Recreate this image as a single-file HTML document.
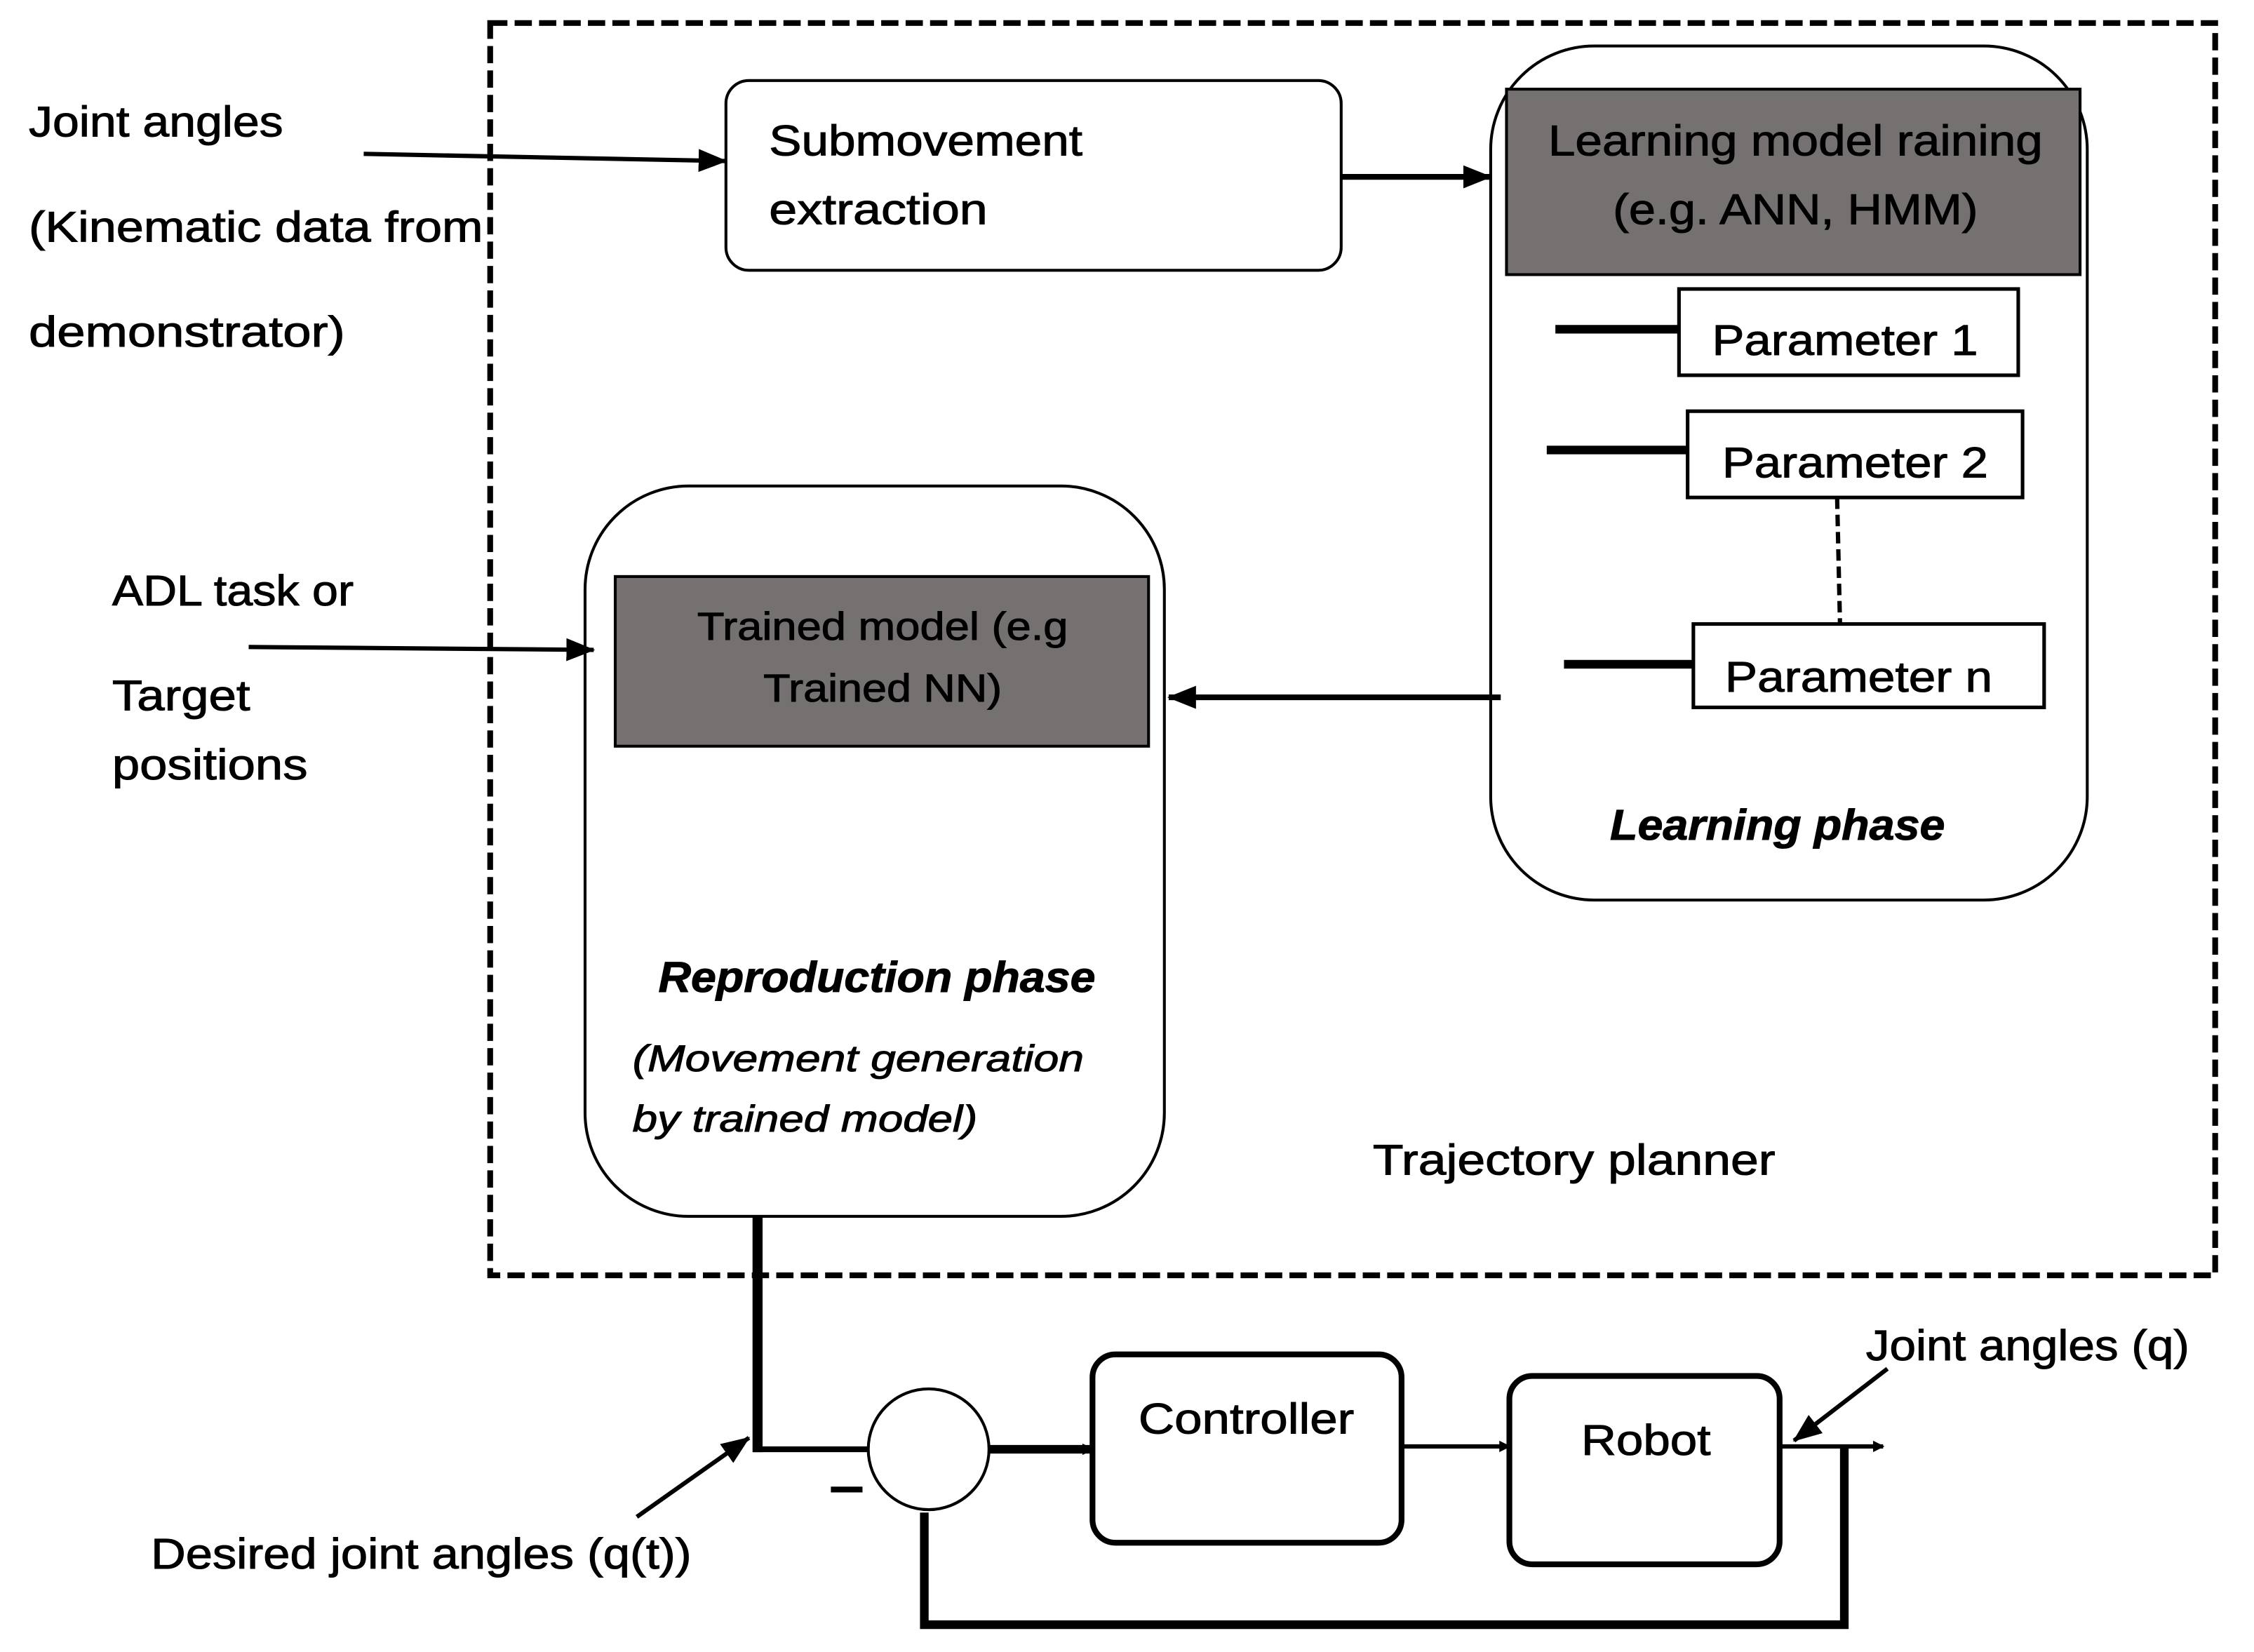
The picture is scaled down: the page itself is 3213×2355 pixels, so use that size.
<!DOCTYPE html>
<html><head><meta charset="utf-8"><style>html,body{margin:0;padding:0;background:#fff}svg{display:block}</style></head>
<body>
<svg width="3213" height="2355" viewBox="0 0 1568 1149" preserveAspectRatio="none" xmlns="http://www.w3.org/2000/svg" font-family="Liberation Sans, sans-serif" font-size="30">
<defs>
<marker id="a" markerWidth="8" markerHeight="8" refX="7" refY="4" orient="auto" markerUnits="userSpaceOnUse"><path d="M0,0 L8,4 L0,8 Z" fill="#000"/></marker>
<marker id="b" markerWidth="20" markerHeight="20" refX="19" refY="10" orient="auto" markerUnits="userSpaceOnUse"><path d="M0,2 L20,10 L0,18 Z" fill="#000"/></marker>
</defs>
<g stroke="#000" stroke-width="0">
<rect x="341" y="16" width="1200" height="871" fill="none" stroke="#000" stroke-width="4" stroke-dasharray="12,5"/>
<rect x="505" y="56" width="428" height="132" rx="16" fill="#fff" stroke="#000" stroke-width="2"/>
<rect x="1037" y="32" width="415" height="594" rx="72" fill="#fff" stroke="#000" stroke-width="2"/>
<rect x="1048" y="62" width="399" height="129" fill="#767171" stroke="#000" stroke-width="2"/>
<rect x="1168" y="201" width="236" height="60" fill="#fff" stroke="#000" stroke-width="2.5"/>
<line x1="1082" y1="229" x2="1168" y2="229" stroke="#000" stroke-width="6"/>
<rect x="1174" y="286" width="233" height="60" fill="#fff" stroke="#000" stroke-width="2.5"/>
<line x1="1076" y1="313" x2="1174" y2="313" stroke="#000" stroke-width="6"/>
<line x1="1278" y1="346" x2="1280" y2="434" stroke="#000" stroke-width="3" stroke-dasharray="8,4"/>
<rect x="1178" y="434" width="244" height="58" fill="#fff" stroke="#000" stroke-width="2.5"/>
<line x1="1088" y1="462" x2="1178" y2="462" stroke="#000" stroke-width="6"/>
<rect x="407" y="338" width="403" height="508" rx="72" fill="#fff" stroke="#000" stroke-width="2"/>
<rect x="428" y="401" width="371" height="118" fill="#767171" stroke="#000" stroke-width="2"/>
<line x1="253" y1="107" x2="505" y2="112" stroke="#000" stroke-width="3" marker-end="url(#b)"/>
<line x1="173" y1="450" x2="413" y2="452" stroke="#000" stroke-width="3" marker-end="url(#b)"/>
<line x1="933" y1="123" x2="1037" y2="123" stroke="#000" stroke-width="4" marker-end="url(#b)"/>
<line x1="1044" y1="485" x2="813" y2="485" stroke="#000" stroke-width="4" marker-end="url(#b)"/>
<line x1="527" y1="846" x2="527" y2="1010" stroke="#000" stroke-width="7"/>
<line x1="524" y1="1008" x2="604" y2="1008" stroke="#000" stroke-width="4"/>
<circle cx="646" cy="1008" r="42" fill="#fff" stroke="#000" stroke-width="2"/>
<line x1="688" y1="1008" x2="760" y2="1008" stroke="#000" stroke-width="6" marker-end="url(#a)"/>
<rect x="760" y="942" width="215" height="131" rx="16" fill="#fff" stroke="#000" stroke-width="4"/>
<line x1="975" y1="1006" x2="1050" y2="1006" stroke="#000" stroke-width="3" marker-end="url(#a)"/>
<rect x="1050" y="957" width="188" height="131" rx="16" fill="#fff" stroke="#000" stroke-width="4"/>
<line x1="1238" y1="1006" x2="1310" y2="1006" stroke="#000" stroke-width="3" marker-end="url(#a)"/>
<polyline points="1283,1006 1283,1130 643,1130 643,1052" fill="none" stroke="#000" stroke-width="6"/>
<line x1="578" y1="1036" x2="600" y2="1036" stroke="#000" stroke-width="4"/>
<line x1="1313" y1="952" x2="1248" y2="1002" stroke="#000" stroke-width="3" marker-end="url(#b)"/>
<line x1="443" y1="1055" x2="521" y2="1000" stroke="#000" stroke-width="3" marker-end="url(#b)"/>
</g>
<g stroke="#000" stroke-width="0.5">
<text x="535" y="108" textLength="218" lengthAdjust="spacingAndGlyphs">Submovement</text>
<text x="535" y="156" textLength="152" lengthAdjust="spacingAndGlyphs">extraction</text>
<text x="1249" y="108" text-anchor="middle" textLength="344" lengthAdjust="spacingAndGlyphs">Learning model raining</text>
<text x="1249" y="156" text-anchor="middle" textLength="254" lengthAdjust="spacingAndGlyphs">(e.g. ANN, HMM)</text>
<text x="1191" y="247" textLength="185" lengthAdjust="spacingAndGlyphs">Parameter 1</text>
<text x="1198" y="332" textLength="185" lengthAdjust="spacingAndGlyphs">Parameter 2</text>
<text x="1200" y="481" textLength="186" lengthAdjust="spacingAndGlyphs">Parameter n</text>
<text x="1120" y="584" font-weight="bold" font-style="italic" textLength="233" lengthAdjust="spacingAndGlyphs">Learning phase</text>
<text x="614" y="445" text-anchor="middle" font-size="27" textLength="258" lengthAdjust="spacingAndGlyphs">Trained model (e.g</text>
<text x="614" y="488" text-anchor="middle" font-size="27" textLength="166" lengthAdjust="spacingAndGlyphs">Trained NN)</text>
<text x="458" y="690" font-weight="bold" font-style="italic" textLength="304" lengthAdjust="spacingAndGlyphs">Reproduction phase</text>
<text x="440" y="745" font-style="italic" font-size="26" textLength="314" lengthAdjust="spacingAndGlyphs">(Movement generation</text>
<text x="440" y="787" font-style="italic" font-size="26" textLength="240" lengthAdjust="spacingAndGlyphs">by trained model)</text>
<text x="955" y="817" textLength="280" lengthAdjust="spacingAndGlyphs">Trajectory planner</text>
<text x="20" y="95" textLength="177" lengthAdjust="spacingAndGlyphs">Joint angles</text>
<text x="20" y="168" textLength="316" lengthAdjust="spacingAndGlyphs">(Kinematic data from</text>
<text x="20" y="241" textLength="220" lengthAdjust="spacingAndGlyphs">demonstrator)</text>
<text x="78" y="421" textLength="168" lengthAdjust="spacingAndGlyphs">ADL task or</text>
<text x="78" y="494" textLength="96" lengthAdjust="spacingAndGlyphs">Target</text>
<text x="78" y="542" textLength="136" lengthAdjust="spacingAndGlyphs">positions</text>
<text x="792" y="997" textLength="150" lengthAdjust="spacingAndGlyphs">Controller</text>
<text x="1100" y="1012" textLength="90" lengthAdjust="spacingAndGlyphs">Robot</text>
<text x="1298" y="946" textLength="225" lengthAdjust="spacingAndGlyphs">Joint angles (q)</text>
<text x="105" y="1091" textLength="376" lengthAdjust="spacingAndGlyphs">Desired joint angles (q(t))</text>
</g>
</svg>
</body></html>
